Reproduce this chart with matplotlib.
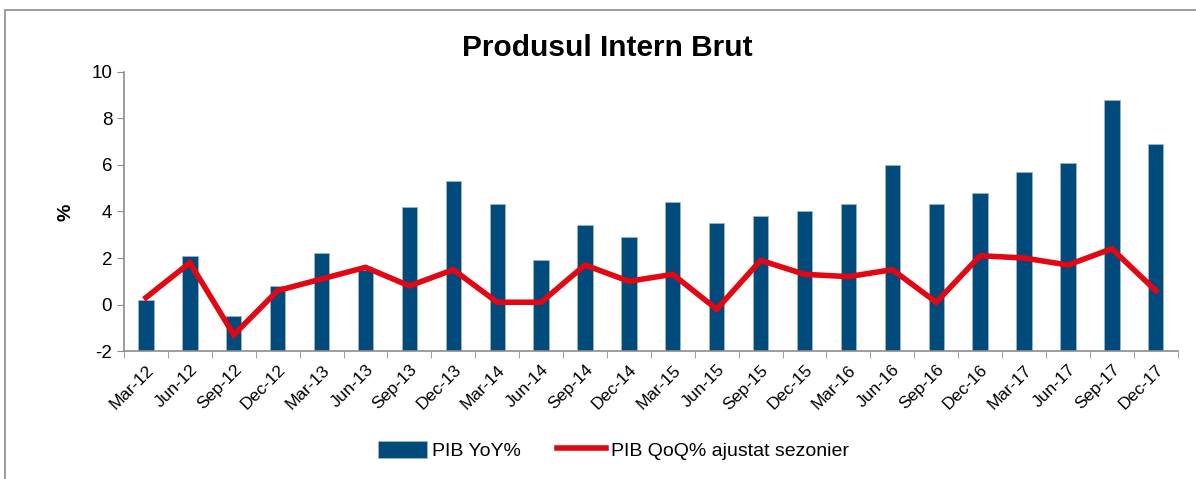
import numpy as np
import matplotlib.pyplot as plt
from matplotlib.patches import Rectangle

plt.rcParams['font.family'] = ['Liberation Sans', 'DejaVu Sans']
plt.rcParams['axes.unicode_minus'] = False

# date trimestriale
quarters = ['Mar-12', 'Jun-12', 'Sep-12', 'Dec-12', 'Mar-13', 'Jun-13', 'Sep-13', 'Dec-13',
            'Mar-14', 'Jun-14', 'Sep-14', 'Dec-14', 'Mar-15', 'Jun-15', 'Sep-15', 'Dec-15',
            'Mar-16', 'Jun-16', 'Sep-16', 'Dec-16', 'Mar-17', 'Jun-17', 'Sep-17', 'Dec-17']
pib_yoy = [0.2, 2.1, -0.5, 0.8, 2.2, 1.5, 4.2, 5.3, 4.3, 1.9, 3.4, 2.9,
           4.4, 3.5, 3.8, 4.0, 4.3, 6.0, 4.3, 4.8, 5.7, 6.1, 8.8, 6.9]
pib_qoq = [0.3, 1.8, -1.3, 0.6, 1.1, 1.6, 0.8, 1.5, 0.1, 0.1, 1.7, 1.0,
           1.3, -0.2, 1.9, 1.3, 1.2, 1.5, 0.1, 2.1, 2.0, 1.7, 2.4, 0.6]

x = np.arange(len(quarters))
ymin = -2

fig = plt.figure(figsize=(11.96, 4.79), dpi=100)
ax = fig.add_axes([0.1037, 0.267, 0.881, 0.583])

# chenar exterior
fig.patches.append(Rectangle((0.004, -0.05), 1.1, 1.03, transform=fig.transFigure,
                             fill=False, edgecolor='#8c8c8c', linewidth=1.2))

# coloanele pornesc de la baza axei (ca in Excel)
ax.bar(x, [v - ymin for v in pib_yoy], bottom=ymin, width=0.35, color='#004a7c',
       edgecolor='#9fb4c8', linewidth=0.6, label='PIB YoY%', zorder=2)
ax.plot(x, pib_qoq, color='#e30613', linewidth=4, label='PIB QoQ% ajustat sezonier',
        solid_joinstyle='miter', zorder=3)

ax.set_xlim(-0.5, len(quarters) - 0.5)
ax.set_ylim(ymin, 10)
ax.set_yticks(range(-2, 11, 2))
ax.set_xticks(x)
ax.set_xticklabels(quarters, rotation=45, ha='right', rotation_mode='anchor', fontsize=12.5)
ax.set_xticks(np.arange(-0.5, len(quarters), 1), minor=True)
ax.tick_params(axis='x', which='major', length=0, pad=8)
ax.tick_params(axis='x', which='minor', length=5, color='#8c8c8c', direction='out')
ax.tick_params(axis='y', length=5, color='#8c8c8c', labelsize=13.5, direction='out')

for s in ['top', 'right']:
    ax.spines[s].set_visible(False)
for s in ['left', 'bottom']:
    ax.spines[s].set_color('#8c8c8c')
    ax.spines[s].set_linewidth(1.2)

fig.text(0.055, 0.557, '%', rotation=90, ha='center', va='center',
         fontsize=14, fontweight='bold')
fig.text(0.508, 0.9, 'Produsul Intern Brut', ha='center', va='center',
         fontsize=21.5, fontweight='bold')

handles, labels = ax.get_legend_handles_labels()
order = [labels.index('PIB YoY%'), labels.index('PIB QoQ% ajustat sezonier')]
fig.legend([handles[i] for i in order], [labels[i] for i in order],
           loc='center', bbox_to_anchor=(0.513, 0.06), ncol=2, frameon=False,
           fontsize=14, handlelength=2.5, columnspacing=1.9, handleheight=1.0,
           handletextpad=0.25)

fig.savefig('out.png', dpi=100)
